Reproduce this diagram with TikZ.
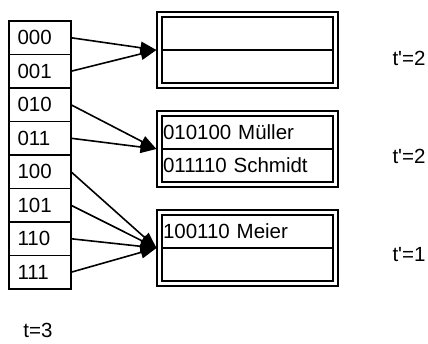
\documentclass[tikz,border=0pt]{standalone}
\usepackage{fontspec}
\setmainfont{Liberation Sans}
\usetikzlibrary{arrows.meta,fit}
\begin{document}
\begin{tikzpicture}[x=1pt,y=-1pt,
    every node/.style={font=\fontsize{20.5}{24}\selectfont},
    dirrow/.style={draw,line width=1.6pt,anchor=north west,outer sep=0pt,
        minimum width=62pt,minimum height=33.5pt,inner xsep=8.5pt,text width=45pt,align=left},
    cell/.style={draw,line width=1.6pt,anchor=north west,outer sep=0pt,
        minimum width=171pt,minimum height=33pt,inner xsep=1pt,text width=169pt,align=left},
    frame/.style={draw,line width=1.1pt,inner sep=5pt},
    ptr/.style={line width=1.6pt,-{Triangle[length=16pt,width=12pt]}}]
    \useasboundingbox (0,0) rectangle (428,343);
    %% Directory
    \node[dirrow] (d000) at (9,21) {000};
    \node[dirrow] (d001) at (9,54.5) {001};
    \node[dirrow] (d010) at (9,88) {010};
    \node[dirrow] (d011) at (9,121.5) {011};
    \node[dirrow] (d100) at (9,155) {100};
    \node[dirrow] (d101) at (9,188.5) {101};
    \node[dirrow] (d110) at (9,222) {110};
    \node[dirrow] (d111) at (9,255.5) {111};
    %% Buckets
    \node[cell] (b1a) at (162,17) {};
    \node[cell] (b1b) at (162,50) {};
    \node[frame,fit=(b1a)(b1b)] (b1) {};
    \node[cell] (b2a) at (162,116) {010100 Müller};
    \node[cell] (b2b) at (162,149) {011110 Schmidt};
    \node[frame,fit=(b2a)(b2b)] (b2) {};
    \node[cell] (b3a) at (162,215) {100110 Meier};
    \node[cell] (b3b) at (162,248) {};
    \node[frame,fit=(b3a)(b3b)] (b3) {};
    %% Local depths
    \node (t1) at (409,58) {t\textquotesingle=2};
    \node (t2) at (409,156) {t\textquotesingle=2};
    \node (t3) at (409,255) {t\textquotesingle=1};
    %% Global depth
    \node (t) at (38,330) {t=3};
    %% Pointers
    \draw[ptr] (d000.east) -- (b1.west);
    \draw[ptr] (d001.east) -- (b1.west);
    \draw[ptr] (d010.east) -- (b2.west);
    \draw[ptr] (d011.east) -- (b2.west);
    \draw[ptr] (d100.east) -- (b3.west);
    \draw[ptr] (d101.east) -- (b3.west);
    \draw[ptr] (d110.east) -- (b3.west);
    \draw[ptr] (d111.east) -- (b3.west);
\end{tikzpicture}
\end{document}
